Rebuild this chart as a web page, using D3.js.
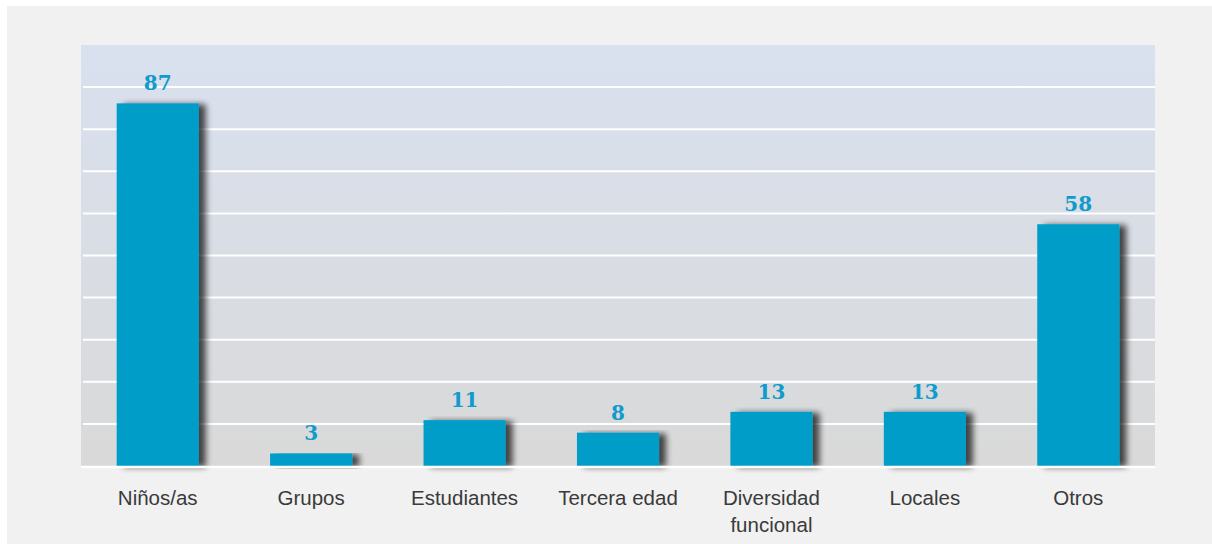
<!DOCTYPE html>
<html>
<head>
<meta charset="utf-8">
<script src="https://cdn.jsdelivr.net/npm/d3@7"></script>
<style>
  html, body { margin: 0; padding: 0; background: #ffffff; }
  svg { display: block; }
</style>
</head>
<body>
<div id="chart"></div>
<script>
// Données
const categories = ["Niños/as", "Grupos", "Estudiantes", "Tercera edad", "Diversidad funcional", "Locales", "Otros"];
const values = [87, 3, 11, 8, 13, 13, 58];
const yMax = 101;

// Dimensions
const W = 1212, H = 544;
const plot = { left: 81, right: 1155, top: 45, bottom: 466 };

const svg = d3.select("#chart")
    .append("svg")
    .attr("width", W)
    .attr("height", H);

const defs = svg.append("defs");

// Dégradé du fond (bleu clair en haut -> gris en bas)
const grad = defs.append("linearGradient")
    .attr("id", "bg-grad")
    .attr("x1", 0).attr("y1", 0).attr("x2", 0).attr("y2", 1);
grad.append("stop").attr("offset", "0%").attr("stop-color", "#d9e1ef");
grad.append("stop").attr("offset", "100%").attr("stop-color", "#d9d9d9");

// Ombre des barres
const shadow = defs.append("filter")
    .attr("id", "bar-shadow")
    .attr("x", "-10%").attr("y", "-10%")
    .attr("width", "140%").attr("height", "130%");
shadow.append("feGaussianBlur").attr("in", "SourceAlpha").attr("stdDeviation", 3).attr("result", "blur");
shadow.append("feOffset").attr("in", "blur").attr("dx", 7).attr("dy", 1).attr("result", "off");
shadow.append("feComponentTransfer").attr("in", "off").attr("result", "shade")
    .append("feFuncA").attr("type", "linear").attr("slope", 0.7);
const merge = shadow.append("feMerge");
merge.append("feMergeNode").attr("in", "shade");
merge.append("feMergeNode").attr("in", "SourceGraphic");

// Fond général
svg.append("rect")
    .attr("x", 7).attr("y", 6)
    .attr("width", W - 7).attr("height", H - 6)
    .attr("fill", "#f1f1f1");

// Zone du graphique
svg.append("rect")
    .attr("x", plot.left).attr("y", plot.top)
    .attr("width", plot.right - plot.left)
    .attr("height", plot.bottom - plot.top)
    .attr("fill", "url(#bg-grad)");

// Échelles
const x = d3.scaleBand()
    .domain(categories)
    .range([plot.left, plot.right])
    .paddingInner(0.465)
    .paddingOuter(0.2325);

const y = d3.scaleLinear()
    .domain([0, yMax])
    .range([plot.bottom, plot.top]);

// Lignes de grille blanches
const gridValues = d3.range(1, 10).map(i => i * yMax / 10);
svg.append("g")
    .selectAll("line")
    .data(gridValues)
    .enter()
    .append("line")
    .attr("x1", plot.left + 2)
    .attr("x2", plot.right)
    .attr("y1", d => y(d))
    .attr("y2", d => y(d))
    .attr("stroke", "#ffffff")
    .attr("stroke-width", 2);

// Barres
svg.append("g")
    .selectAll("rect")
    .data(values)
    .enter()
    .append("rect")
    .attr("x", (d, i) => x(categories[i]))
    .attr("y", d => y(d))
    .attr("width", x.bandwidth())
    .attr("height", d => y(0) - y(d))
    .attr("fill", "#009dc8")
    .attr("filter", "url(#bar-shadow)");

// Ligne de base
svg.append("line")
    .attr("x1", plot.left)
    .attr("x2", plot.right)
    .attr("y1", y(0) + 1)
    .attr("y2", y(0) + 1)
    .attr("stroke", "#ffffff")
    .attr("stroke-width", 2.5);

// Valeurs au-dessus des barres
svg.append("g")
    .selectAll("text")
    .data(values)
    .enter()
    .append("text")
    .attr("x", (d, i) => x(categories[i]) + x.bandwidth() / 2)
    .attr("y", d => y(d) - 13)
    .attr("text-anchor", "middle")
    .attr("font-family", "'DejaVu Serif', serif")
    .attr("font-weight", "bold")
    .attr("font-size", 20)
    .attr("fill", "#0f9bcb")
    .text(d => d);

// Étiquettes des catégories
const catLines = {
    "Diversidad funcional": ["Diversidad", "funcional"]
};
const labels = svg.append("g")
    .selectAll("text")
    .data(categories)
    .enter()
    .append("text")
    .attr("x", d => x(d) + x.bandwidth() / 2)
    .attr("y", 505)
    .attr("text-anchor", "middle")
    .attr("font-family", "'Liberation Sans', Arial, sans-serif")
    .attr("font-size", 20.5)
    .attr("fill", "#3a3a3a");

labels.each(function(d) {
    const lines = catLines[d] || [d];
    const t = d3.select(this);
    lines.forEach((l, k) => {
        t.append("tspan")
            .attr("x", x(d) + x.bandwidth() / 2)
            .attr("dy", k === 0 ? 0 : 27)
            .text(l);
    });
});
</script>
</body>
</html>
